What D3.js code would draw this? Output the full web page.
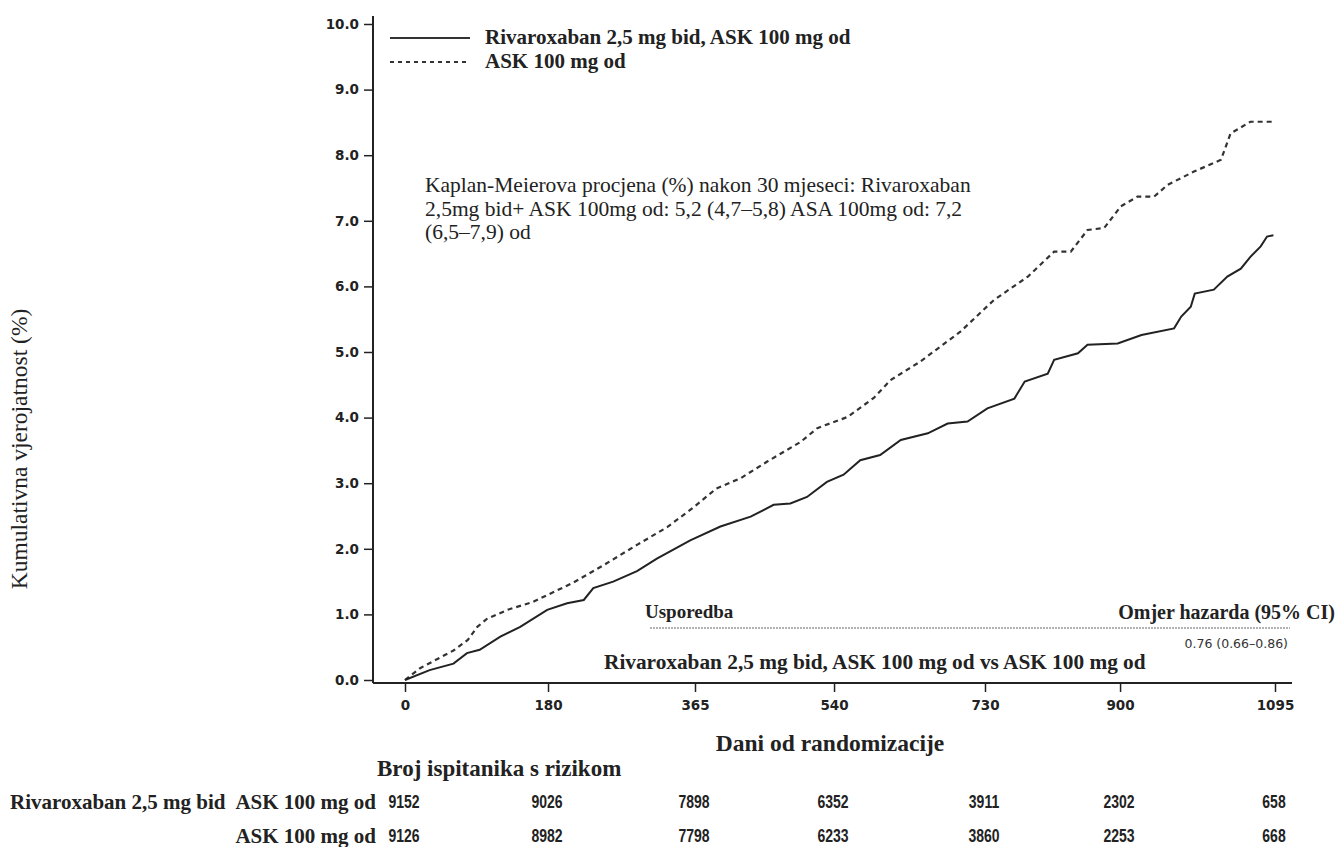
<!DOCTYPE html>
<html>
<head>
<meta charset="utf-8">
<script src="https://cdn.jsdelivr.net/npm/d3@7"></script>
<style>
  body { margin: 0; background: #fff; }
  svg { display: block; }
</style>
</head>
<body>
<div id="chart"></div>
<script>
// Data
const yTicks = [0, 1, 2, 3, 4, 5, 6, 7, 8, 9, 10];
const xTicks = [0, 180, 365, 540, 730, 900, 1095];

const rivaDays = [0, 31, 61, 78, 94, 120, 145, 179, 204, 225, 237, 262, 292, 317, 359, 397, 435, 464, 485, 506, 531, 552, 573, 598, 624, 658, 683, 708, 733, 767, 780, 809, 817, 847, 859, 897, 927, 968, 977, 989, 994, 1018, 1035, 1052, 1064, 1077, 1085, 1093];
const rivaRisk = [0, 0.15, 0.25, 0.41, 0.46, 0.66, 0.81, 1.07, 1.17, 1.22, 1.40, 1.50, 1.66, 1.85, 2.13, 2.34, 2.49, 2.67, 2.69, 2.79, 3.02, 3.13, 3.35, 3.43, 3.66, 3.76, 3.91, 3.94, 4.14, 4.29, 4.55, 4.67, 4.88, 4.98, 5.11, 5.13, 5.26, 5.36, 5.54, 5.69, 5.89, 5.95, 6.15, 6.27, 6.45, 6.61, 6.76, 6.78];

const askDays = [0, 19, 61, 79, 91, 103, 129, 161, 211, 250, 292, 330, 364, 392, 423, 456, 498, 519, 557, 590, 611, 648, 699, 741, 784, 817, 838, 859, 880, 901, 922, 943, 960, 993, 1027, 1039, 1064, 1093];
const askRisk = [0, 0.18, 0.45, 0.61, 0.81, 0.93, 1.07, 1.19, 1.48, 1.75, 2.06, 2.33, 2.64, 2.92, 3.08, 3.33, 3.63, 3.84, 4.01, 4.30, 4.57, 4.85, 5.31, 5.79, 6.15, 6.53, 6.53, 6.86, 6.89, 7.22, 7.37, 7.37, 7.55, 7.75, 7.93, 8.33, 8.51, 8.51];

const rivaAtRisk = [9152, 9026, 7898, 6352, 3911, 2302, 658];
const askAtRisk = [9126, 8982, 7798, 6233, 3860, 2253, 668];

const legendLabels = ['Rivaroxaban 2,5 mg bid, ASK 100 mg od', 'ASK 100 mg od'];
const kmNote = [
  'Kaplan-Meierova procjena (%) nakon 30 mjeseci: Rivaroxaban',
  '2,5mg bid+ ASK 100mg od: 5,2 (4,7–5,8) ASA 100mg od: 7,2',
  '(6,5–7,9) od'
];

// Layout
const WIDTH = 1339, HEIGHT = 847;
const SERIF = '"Liberation Serif", "Times New Roman", serif';
const SANS = '"DejaVu Sans", Verdana, sans-serif';
const NARROW = '"Liberation Sans", Arial, sans-serif';
const INK = '#222';

const svg = d3.select('#chart').append('svg')
  .attr('width', WIDTH)
  .attr('height', HEIGHT);

const x = d3.scaleLinear().domain([0, 1095]).range([405, 1275]);
const y = d3.scaleLinear().domain([0, 10]).range([680, 24]);

// Axes
const yAxis = svg.append('g')
  .attr('transform', 'translate(373,0)')
  .call(d3.axisLeft(y).tickValues(yTicks).tickFormat(d3.format('.1f')).tickSize(9).tickPadding(5));
yAxis.select('.domain').remove();
yAxis.selectAll('line').attr('stroke', INK).attr('stroke-width', 1.5);
yAxis.selectAll('text')
  .attr('font-family', SANS).attr('font-weight', 'bold').attr('font-size', 13.5).attr('fill', INK);

const xAxis = svg.append('g')
  .attr('transform', 'translate(0,683)')
  .call(d3.axisBottom(x).tickValues(xTicks).tickFormat(d3.format('d')).tickSize(9).tickPadding(8));
xAxis.select('.domain').remove();
xAxis.selectAll('line').attr('stroke', INK).attr('stroke-width', 1.5);
xAxis.selectAll('text')
  .attr('font-family', SANS).attr('font-weight', 'bold').attr('font-size', 13.5).attr('fill', INK);

// Axis lines
svg.append('line').attr('x1', 373).attr('x2', 373).attr('y1', 16).attr('y2', 683)
  .attr('stroke', INK).attr('stroke-width', 2);
svg.append('line').attr('x1', 373).attr('x2', 1292).attr('y1', 683).attr('y2', 683)
  .attr('stroke', INK).attr('stroke-width', 2);

// Axis titles
svg.append('text')
  .attr('transform', 'translate(27,449) rotate(-90)')
  .attr('text-anchor', 'middle')
  .attr('font-family', SERIF).attr('font-size', 23.5).attr('fill', INK)
  .text('Kumulativna vjerojatnost (%)');

svg.append('text')
  .attr('x', 830).attr('y', 751)
  .attr('text-anchor', 'middle')
  .attr('font-family', SERIF).attr('font-weight', 'bold').attr('font-size', 23.5).attr('fill', INK)
  .text('Dani od randomizacije');

// Curves
const line = d3.line().x(d => x(d[0])).y(d => y(d[1])).curve(d3.curveLinear);

svg.append('path')
  .datum(askDays.map((d, i) => [d, askRisk[i]]))
  .attr('d', line)
  .attr('fill', 'none')
  .attr('stroke', '#333')
  .attr('stroke-width', 2.2)
  .attr('stroke-dasharray', '5,4');

svg.append('path')
  .datum(rivaDays.map((d, i) => [d, rivaRisk[i]]))
  .attr('d', line)
  .attr('fill', 'none')
  .attr('stroke', INK)
  .attr('stroke-width', 2);

// Legend
const legend = svg.append('g');
legendLabels.forEach((lab, i) => {
  legend.append('line')
    .attr('x1', 390).attr('x2', 470)
    .attr('y1', 38 + i * 24).attr('y2', 38 + i * 24)
    .attr('stroke', '#333').attr('stroke-width', 2)
    .attr('stroke-dasharray', i === 0 ? null : '4,4');
  legend.append('text')
    .attr('x', 485).attr('y', 44 + i * 24)
    .attr('font-family', SERIF).attr('font-weight', 'bold').attr('font-size', 21).attr('fill', INK)
    .text(lab);
});

// KM estimate note
svg.append('g').selectAll('text')
  .data(kmNote)
  .enter().append('text')
  .attr('x', 425)
  .attr('y', (d, i) => 192 + i * 23.5)
  .attr('font-family', SERIF).attr('font-size', 21.5).attr('fill', INK)
  .text(d => d);

// Hazard ratio box
svg.append('text')
  .attr('x', 645).attr('y', 618)
  .attr('font-family', SERIF).attr('font-weight', 'bold').attr('font-size', 19).attr('fill', INK)
  .text('Usporedba');
svg.append('text')
  .attr('x', 1335).attr('y', 619)
  .attr('text-anchor', 'end')
  .attr('font-family', SERIF).attr('font-weight', 'bold').attr('font-size', 20).attr('fill', INK)
  .text('Omjer hazarda (95% CI)');
svg.append('line')
  .attr('x1', 650).attr('x2', 1290).attr('y1', 628).attr('y2', 628)
  .attr('stroke', '#999').attr('stroke-width', 1.5).attr('stroke-dasharray', '2,1');
svg.append('text')
  .attr('x', 1288).attr('y', 648)
  .attr('text-anchor', 'end')
  .attr('font-family', SANS).attr('font-size', 12.5).attr('fill', '#333')
  .text('0.76 (0.66–0.86)');
svg.append('text')
  .attr('x', 604).attr('y', 669)
  .attr('font-family', SERIF).attr('font-weight', 'bold').attr('font-size', 21.3).attr('fill', INK)
  .text('Rivaroxaban 2,5 mg bid, ASK 100 mg od vs ASK 100 mg od');

// Number at risk table
svg.append('text')
  .attr('x', 377).attr('y', 776)
  .attr('font-family', SERIF).attr('font-weight', 'bold').attr('font-size', 23).attr('fill', INK)
  .text('Broj ispitanika s rizikom');

const rows = [
  { label: 'Rivaroxaban 2,5 mg bid', sub: 'ASK 100 mg od', values: rivaAtRisk, y: 809 },
  { label: '', sub: 'ASK 100 mg od', values: askAtRisk, y: 843 }
];
rows.forEach(r => {
  if (r.label) {
    svg.append('text')
      .attr('x', 10).attr('y', r.y)
      .attr('font-family', SERIF).attr('font-weight', 'bold').attr('font-size', 21).attr('fill', INK)
      .text(r.label);
  }
  svg.append('text')
    .attr('x', 376).attr('y', r.y)
    .attr('text-anchor', 'end')
    .attr('font-family', SERIF).attr('font-weight', 'bold').attr('font-size', 21).attr('fill', INK)
    .text(r.sub);
  // condensed numbers, squeezed horizontally like the original narrow face
  svg.append('g').selectAll('text')
    .data(r.values)
    .enter().append('text')
    .attr('transform', (d, i) => `translate(${x(xTicks[i]) - 1},${r.y - 1}) scale(0.8,1)`)
    .attr('text-anchor', 'middle')
    .attr('font-family', NARROW).attr('font-weight', 'bold').attr('font-size', 17.5).attr('fill', INK)
    .text(d => d);
});
</script>
</body>
</html>
